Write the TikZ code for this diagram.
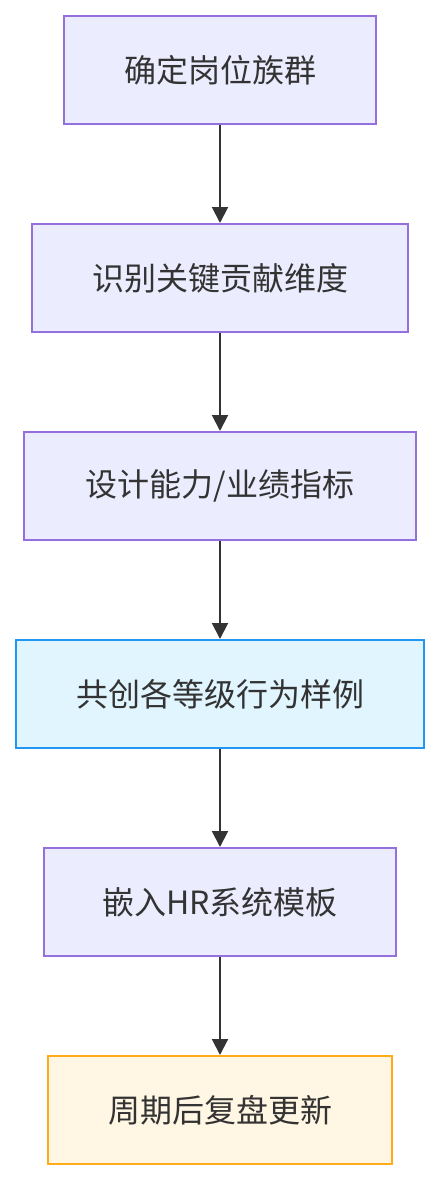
\documentclass[tikz,border=0pt]{standalone}
\usepackage{fontspec}
\newfontfamily\cjk{Noto Sans CJK SC}
\usetikzlibrary{arrows.meta}
\definecolor{txt}{HTML}{333333}
\definecolor{pfill}{HTML}{ECECFF}
\definecolor{pdraw}{HTML}{9370DB}
\definecolor{bfill}{HTML}{E1F5FE}
\definecolor{bdraw}{HTML}{2196F3}
\definecolor{yfill}{HTML}{FFF6E3}
\definecolor{ydraw}{HTML}{FFAB1A}
\tikzset{
  box/.style={draw=pdraw, fill=pfill, line width=2pt, rectangle, minimum height=108pt, inner sep=0pt,
    font=\cjk\fontsize{32pt}{36pt}\selectfont, text=txt},
  bluebox/.style={box, draw=bdraw, fill=bfill},
  yellowbox/.style={box, draw=ydraw, fill=yfill},
  arr/.style={draw=txt, line width=2pt, -{Triangle[length=16pt,width=16pt]}}
}
\begin{document}
\begin{tikzpicture}[x=1pt,y=1pt]
\useasboundingbox (0,0) rectangle (440,-1180);
\node[box, minimum width=312pt] (n1) at (220,-70) {确定岗位族群};
\node[box, minimum width=376pt] (n2) at (220,-278) {识别关键贡献维度};
\node[box, minimum width=392pt] (n3) at (220,-486) {设计能力/业绩指标};
\node[bluebox, minimum width=408pt] (n4) at (220,-694) {共创各等级行为样例};
\node[box, minimum width=352pt] (n5) at (220,-902) {嵌入HR系统模板};
\node[yellowbox, minimum width=344pt] (n6) at (220,-1110) {周期后复盘更新};
\draw[arr] (n1.south) -- (n2.north);
\draw[arr] (n2.south) -- (n3.north);
\draw[arr] (n3.south) -- (n4.north);
\draw[arr] (n4.south) -- (n5.north);
\draw[arr] (n5.south) -- (n6.north);
\end{tikzpicture}
\end{document}
